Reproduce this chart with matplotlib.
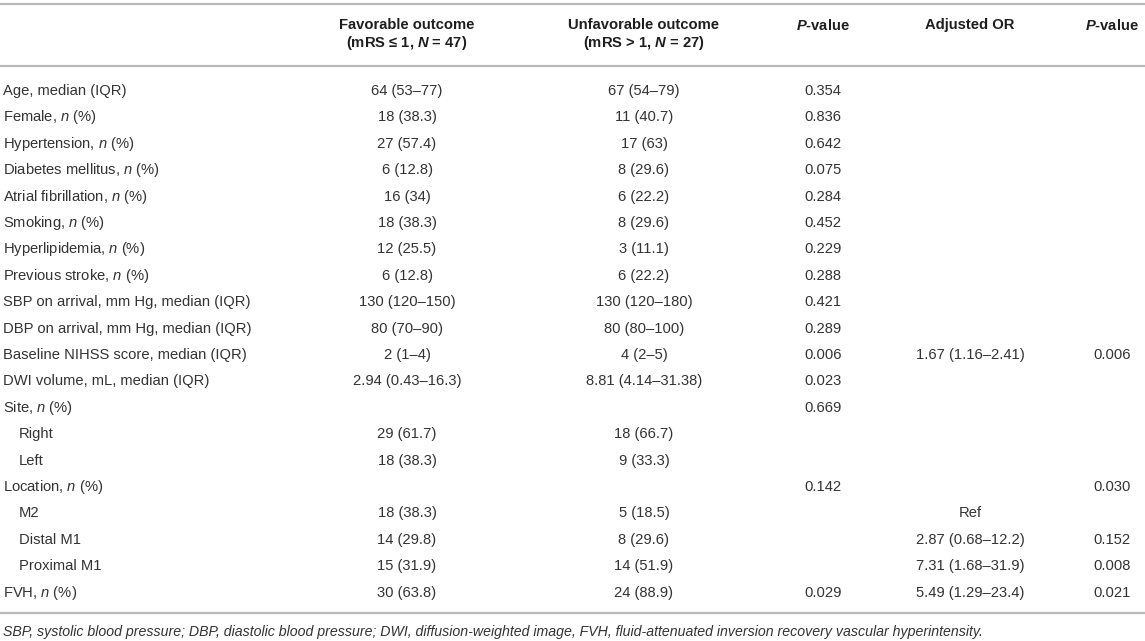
import matplotlib
matplotlib.use("Agg")
import matplotlib.pyplot as plt

plt.rcParams['font.family'] = ['Liberation Sans', 'DejaVu Sans']
plt.rcParams['mathtext.fontset'] = 'custom'
plt.rcParams['mathtext.rm'] = 'Liberation Sans'
plt.rcParams['mathtext.it'] = 'Liberation Sans:italic'
plt.rcParams['mathtext.bf'] = 'Liberation Sans:bold'
plt.rcParams['mathtext.bfit'] = 'Liberation Sans:bold:italic'

# ---- data ----
col_headers = [
    "Favorable outcome\n(mRS \u2264 1, $\\mathbfit{N}$ = 47)",
    "Unfavorable outcome\n(mRS > 1, $\\mathbfit{N}$ = 27)",
    "$\\mathbfit{P}$-value",
    "Adjusted OR",
    "$\\mathbfit{P}$-value",
]
row_labels = [
    "Age, median (IQR)",
    "Female, $n$ (%)",
    "Hypertension, $n$ (%)",
    "Diabetes mellitus, $n$ (%)",
    "Atrial fibrillation, $n$ (%)",
    "Smoking, $n$ (%)",
    "Hyperlipidemia, $n$ (%)",
    "Previous stroke, $n$ (%)",
    "SBP on arrival, mm Hg, median (IQR)",
    "DBP on arrival, mm Hg, median (IQR)",
    "Baseline NIHSS score, median (IQR)",
    "DWI volume, mL, median (IQR)",
    "Site, $n$ (%)",
    "Right",
    "Left",
    "Location, $n$ (%)",
    "M2",
    "Distal M1",
    "Proximal M1",
    "FVH, $n$ (%)",
]
indented = [False] * 13 + [True, True, False, True, True, True, False]
favorable = ["64 (53\u201377)", "18 (38.3)", "27 (57.4)", "6 (12.8)", "16 (34)", "18 (38.3)",
             "12 (25.5)", "6 (12.8)", "130 (120\u2013150)", "80 (70\u201390)", "2 (1\u20134)",
             "2.94 (0.43\u201316.3)", "", "29 (61.7)", "18 (38.3)", "", "18 (38.3)",
             "14 (29.8)", "15 (31.9)", "30 (63.8)"]
unfavorable = ["67 (54\u201379)", "11 (40.7)", "17 (63)", "8 (29.6)", "6 (22.2)", "8 (29.6)",
               "3 (11.1)", "6 (22.2)", "130 (120\u2013180)", "80 (80\u2013100)", "4 (2\u20135)",
               "8.81 (4.14\u201331.38)", "", "18 (66.7)", "9 (33.3)", "", "5 (18.5)",
               "8 (29.6)", "14 (51.9)", "24 (88.9)"]
p_values = ["0.354", "0.836", "0.642", "0.075", "0.284", "0.452", "0.229", "0.288", "0.421",
            "0.289", "0.006", "0.023", "0.669", "", "", "0.142", "", "", "", "0.029"]
adjusted_or = ["", "", "", "", "", "", "", "", "", "", "1.67 (1.16\u20132.41)", "", "", "", "",
               "", "Ref", "2.87 (0.68\u201312.2)", "7.31 (1.68\u201331.9)", "5.49 (1.29\u201323.4)"]
adjusted_p = ["", "", "", "", "", "", "", "", "", "", "0.006", "", "", "", "", "0.030", "",
              "0.152", "0.008", "0.021"]
footnote = ("SBP, systolic blood pressure; DBP, diastolic blood pressure; DWI, diffusion-weighted "
            "image, FVH, fluid-attenuated inversion recovery vascular hyperintensity.")

# ---- layout ----
W, H = 1145, 641
fig = plt.figure(figsize=(W / 100, H / 100), dpi=100)
ax = fig.add_axes([0, 0, 1, 1])
ax.set_xlim(0, W)
ax.set_ylim(H, 0)
ax.axis('off')

fs = 10.6
fs_note = 10.2
col_x = [407, 644, 823, 970, 1112]
label_x = 3
indent_x = 19
row_y0, row_dy = 91, 26.4
rule_color = '#b9b9b9'
head_color = '#1e1e1e'
body_color = '#333333'

for y in (4, 66, 613):
    ax.plot([0, W], [y, y], color=rule_color, lw=1.6, solid_capstyle='butt')

for x, h in zip(col_x, col_headers):
    lines = h.split("\n")
    ys = [25, 43] if len(lines) == 2 else [25]
    for yy, ln in zip(ys, lines):
        ax.text(x, yy, ln, ha='center', va='center', fontsize=fs, fontweight='bold',
                color=head_color)

cols = [favorable, unfavorable, p_values, adjusted_or, adjusted_p]
for i, lab in enumerate(row_labels):
    y = row_y0 + i * row_dy
    ax.text(indent_x if indented[i] else label_x, y, lab, ha='left', va='center',
            fontsize=fs, color=body_color)
    for x, col in zip(col_x, cols):
        if col[i]:
            ax.text(x, y, col[i], ha='center', va='center', fontsize=fs, color=body_color)

ax.text(3, 632, footnote, ha='left', va='center', fontsize=fs_note, style='italic',
        color=body_color)

fig.savefig("out.png", dpi=100)
